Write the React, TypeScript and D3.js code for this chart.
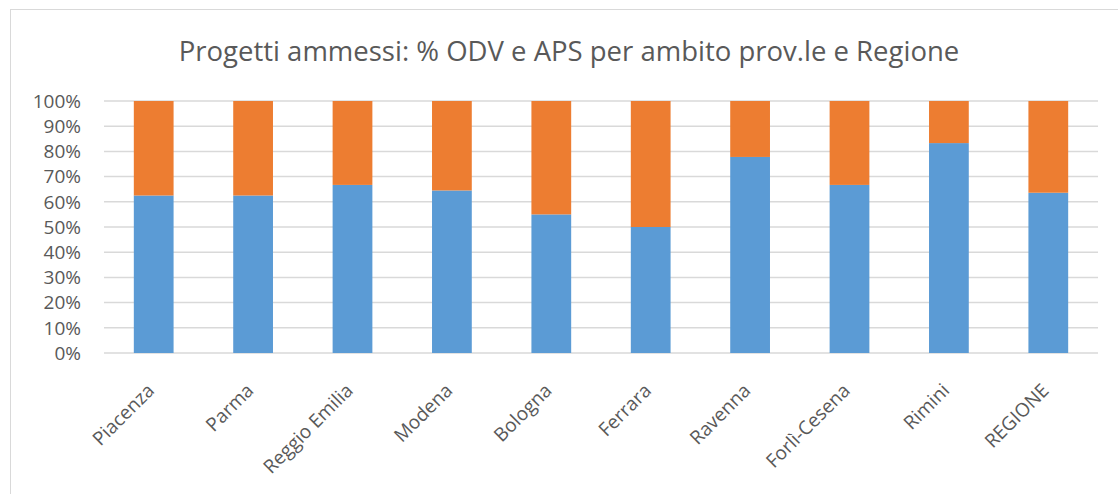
import React from 'react';
import * as d3 from 'd3';

// Categories and shares (ODV = blue, APS = orange)
const categories = ['Piacenza', 'Parma', 'Reggio Emilia', 'Modena', 'Bologna', 'Ferrara', 'Ravenna', 'Forlì-Cesena', 'Rimini', 'REGIONE'];
const odv = [0.625, 0.625, 0.667, 0.645, 0.55, 0.5, 0.778, 0.667, 0.833, 0.636];
const aps = [0.375, 0.375, 0.333, 0.355, 0.45, 0.5, 0.222, 0.333, 0.167, 0.364];
const yTicks = [0, 0.1, 0.2, 0.3, 0.4, 0.5, 0.6, 0.7, 0.8, 0.9, 1];

const W = 1118;
const H = 494;
const margin = { top: 101, right: 20, bottom: 141, left: 104 };
const FONT = "'Open Sans', sans-serif";

export default function App() {
  const x = d3
    .scaleBand<string>()
    .domain(categories)
    .range([margin.left, W - margin.right])
    .paddingInner(0.6)
    .paddingOuter(0.3);
  const y = d3.scaleLinear().domain([0, 1]).range([H - margin.bottom, margin.top]);

  const rows = categories.map((c, i) => ({ cat: c, odv: odv[i], aps: aps[i] }));
  const stacked = d3.stack<any>().keys(['odv', 'aps'])(rows);
  const colors = ['#5B9BD5', '#ED7D31'];
  const pct = d3.format('.0%');

  return (
    <svg width={W} height={H} style={{ position: 'absolute', left: 0, top: 0 }}>
      <rect x={0} y={0} width={W} height={H} fill="#fff" />
      <rect x={10.5} y={9.5} width={W} height={H} fill="#fff" stroke="#d9d9d9" />
      <text x={569} y={61} textAnchor="middle" fontFamily={FONT} fontSize={27.5} fill="#595959">
        Progetti ammessi: % ODV e APS per ambito prov.le e Regione
      </text>

      {/* gridlines */}
      {yTicks.map((t) => (
        <g key={t}>
          <line x1={margin.left} x2={W - margin.right} y1={y(t)} y2={y(t)} stroke="#d9d9d9" strokeWidth={1.5} />
          <text x={81} y={y(t)} dy="0.36em" textAnchor="end" fontFamily={FONT} fontSize={19} fill="#595959">
            {pct(t)}
          </text>
        </g>
      ))}

      {/* bars */}
      {stacked.map((s, si) =>
        s.map((d, i) => (
          <rect
            key={si + '-' + i}
            x={x(categories[i])}
            y={y(d[1])}
            width={x.bandwidth()}
            height={y(d[0]) - y(d[1])}
            fill={colors[si]}
          />
        ))
      )}

      {/* x labels */}
      {categories.map((c) => {
        const cx = (x(c) as number) + x.bandwidth() / 2;
        return (
          <text
            key={c}
            transform={`translate(${cx - 3},${387}) rotate(-45)`}
            textAnchor="end"
            dy="0.35em"
            fontFamily={FONT}
            fontSize={19}
            fill="#595959"
          >
            {c}
          </text>
        );
      })}
    </svg>
  );
}
